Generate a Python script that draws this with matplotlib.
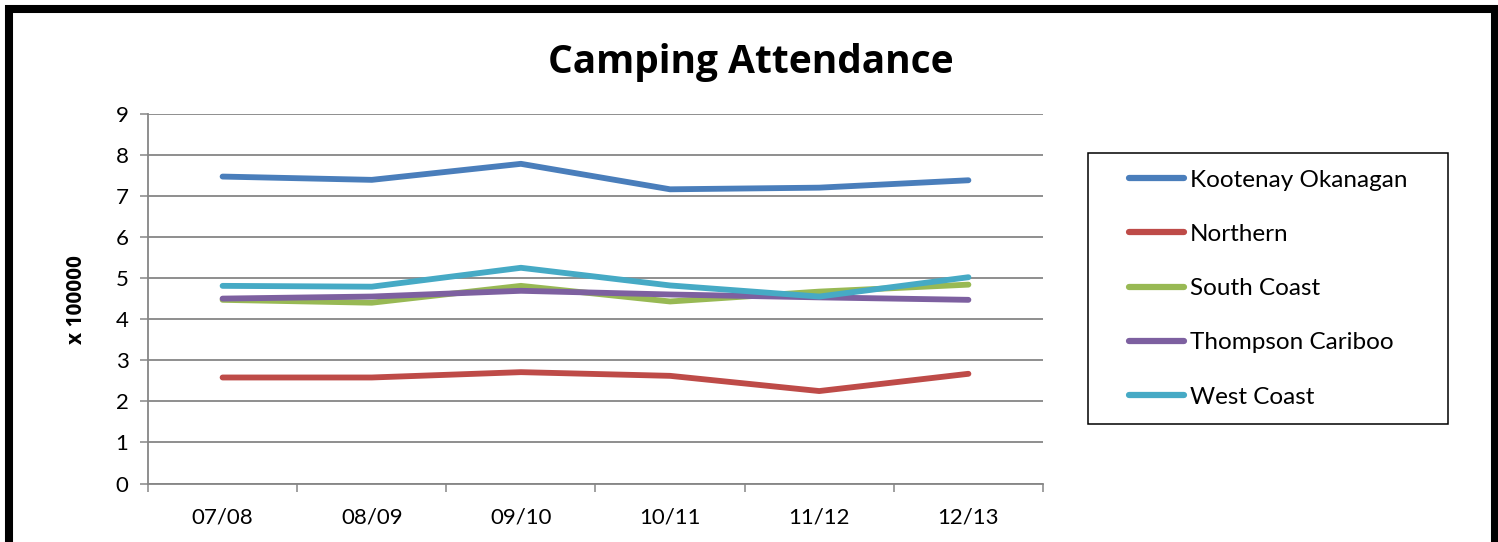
import matplotlib
matplotlib.use("Agg")
import matplotlib.pyplot as plt
from matplotlib.patches import Rectangle

plt.rcParams['font.family'] = ['Lato', 'DejaVu Sans']

categories = ["07/08", "08/09", "09/10", "10/11", "11/12", "12/13"]
kootenay_okanagan = [7.47, 7.39, 7.78, 7.16, 7.20, 7.38]
northern = [2.58, 2.58, 2.71, 2.62, 2.25, 2.67]
south_coast = [4.47, 4.40, 4.81, 4.43, 4.67, 4.84]
thompson_cariboo = [4.50, 4.55, 4.69, 4.60, 4.53, 4.47]
west_coast = [4.81, 4.79, 5.25, 4.82, 4.55, 5.02]

series = [
    ("Kootenay Okanagan", kootenay_okanagan, "#4A7EBB"),
    ("Northern", northern, "#BE4B48"),
    ("South Coast", south_coast, "#98B954"),
    ("Thompson Cariboo", thompson_cariboo, "#7D60A0"),
    ("West Coast", west_coast, "#46AAC5"),
]

W, H = 1498, 542
fig = plt.figure(figsize=(W / 100, H / 100), dpi=100)
ax = fig.add_axes([148 / W, 1 - 483.5 / H, (1043 - 148) / W, (483.5 - 113.7) / H])

x = list(range(len(categories)))
for name, vals, col in series:
    ax.plot(x, vals, color=col, lw=4.2, solid_capstyle='round', solid_joinstyle='round', label=name)

ax.set_xlim(-0.5, len(categories) - 0.5)
ax.set_ylim(0, 9)
ax.set_yticks(range(0, 10))
ax.set_xticks(x)
ax.set_xticklabels(categories)
ax.set_xticks([i - 0.5 for i in range(len(categories) + 1)], minor=True)
ax.tick_params(axis='x', which='major', length=0, pad=17, labelsize=16)
ax.tick_params(axis='x', which='minor', length=6, width=1.1, color='#868686', direction='out')
ax.tick_params(axis='y', which='major', length=6, width=1.1, color='#868686', pad=8, labelsize=16)
ax.yaxis.grid(True, color='#868686', lw=1.3)
ax.set_axisbelow(True)
for s in ['top', 'right']:
    ax.spines[s].set_visible(False)
for s in ['left', 'bottom']:
    ax.spines[s].set_color('#868686')
    ax.spines[s].set_linewidth(1.3)

fig.text(76 / W, 1 - 300 / H, "x 100000", rotation=90, ha='center', va='center',
         fontsize=15, fontweight='bold', family=['Open Sans', 'DejaVu Sans'])
fig.text(751 / W, 1 - 73 / H, "Camping Attendance", ha='center', va='baseline',
         fontsize=28, fontweight='bold', family=['Open Sans', 'DejaVu Sans'])

leg_fs = 17.5
leg = fig.legend(loc='upper left', bbox_to_anchor=(1129 / W, 1 - 169.5 / H),
                 fontsize=leg_fs, frameon=False, handlelength=2.26,
                 handletextpad=0.25, labelspacing=1.37, borderpad=0, borderaxespad=0)
for t in leg.get_texts():
    t.set_color('black')
for h in leg.get_lines():
    h.set_linewidth(4.5)
    h.set_solid_capstyle('round')

fig.patches.append(Rectangle((1088 / W, 1 - 424 / H), (1448 - 1088) / W, (424 - 152.5) / H,
                             transform=fig.transFigure, fill=False, edgecolor='black', lw=1.1))

fig.patches.append(Rectangle((9 / W, -0.2), (1494.5 - 9) / W, 1.2 - 9 / H,
                             transform=fig.transFigure, fill=False, edgecolor='black',
                             lw=5.8, joinstyle='miter'))

fig.savefig("out.png", dpi=100)
